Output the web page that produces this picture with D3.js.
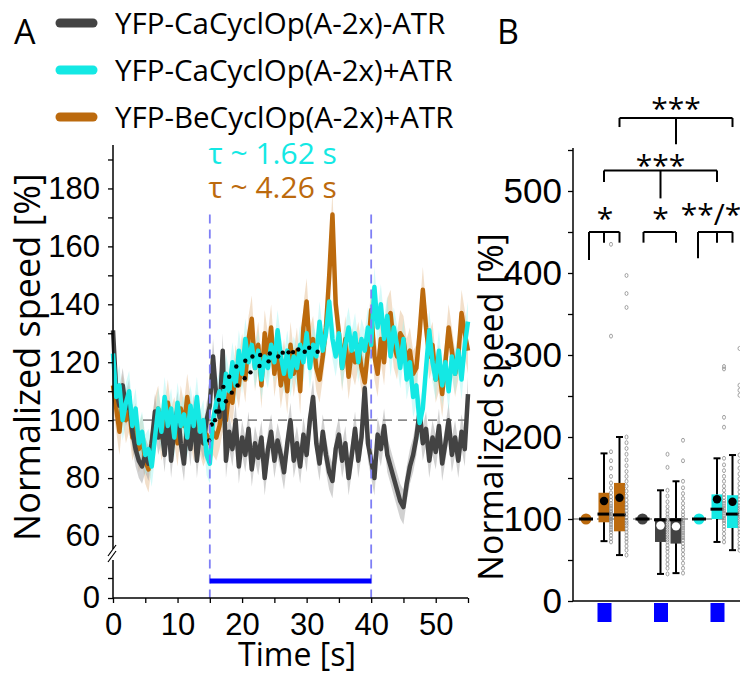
<!DOCTYPE html>
<html>
<head>
<meta charset="utf-8">
<script src="https://cdn.jsdelivr.net/npm/d3@7"></script>
<style>
  body { margin: 0; background: #fff; }
  svg { font-family: "Open Sans", sans-serif; }
</style>
</head>
<body>
<svg width="740" height="677"></svg>
<script>
// ---- panel A: normalized speed traces, sampled every 0.5 s (0..55 s)
const seriesNames = ['YFP-CaCyclOp(A-2x)-ATR', 'YFP-CaCyclOp(A-2x)+ATR', 'YFP-BeCyclOp(A-2x)+ATR'];

const darkSpeed = [
  131, 110, 105, 112, 104, 108, 96, 90, 86, 84,
  88, 85, 92, 103, 94, 98, 88, 102, 86, 97,
  104, 92, 85, 99, 90, 103, 86, 97, 92, 100,
  105, 122, 108, 101, 124, 86, 96, 90, 100, 84,
  94, 88, 97, 83, 92, 87, 94, 80, 90, 96,
  86, 93, 88, 82, 92, 100, 86, 92, 84, 95,
  88, 100, 108, 92, 85, 96, 88, 82, 79, 90,
  95, 86, 92, 80, 88, 97, 86, 94, 111, 92,
  86, 80, 95, 90, 98, 88, 84, 80, 76, 72,
  70, 78, 84, 88, 94, 103, 92, 97, 86, 94,
  89, 98, 85, 92, 100, 88, 94, 86, 96, 90,
  109
];
const cyanSpeed = [
  123, 108, 112, 100, 106, 110, 98, 104, 92, 96,
  88, 90, 84, 94, 104, 96, 108, 98, 104, 94,
  106, 98, 102, 94, 105, 98, 108, 96, 100, 88,
  85, 100, 106, 110, 104, 116, 110, 120, 112, 124,
  116, 128, 120, 126, 118, 124, 114, 122, 118, 126,
  120, 131, 122, 116, 124, 115, 122, 118, 126, 120,
  130, 118, 126, 122, 134, 124, 130, 141, 128, 122,
  130, 118, 126, 132, 124, 130, 120, 128, 124, 132,
  126, 146, 132, 140, 128, 136, 122, 132, 126, 118,
  128, 114, 120, 108, 112, 99, 104, 118, 131, 120,
  114, 124, 112, 120, 110, 122, 116, 124, 114, 126,
  134
];
const orangeSpeed = [
  112, 104, 96, 108, 100, 104, 94, 98, 90, 94,
  86, 83, 92, 100, 104, 94, 98, 106, 96, 100,
  92, 104, 98, 108, 100, 94, 102, 96, 92, 95,
  92, 96, 94, 98, 104, 100, 110, 106, 118, 112,
  122, 114, 128, 135, 118, 126, 112, 130, 122, 132,
  116, 124, 112, 120, 110, 126, 116, 124, 110, 132,
  141, 124, 128, 118, 114, 122, 132, 150, 171, 140,
  130, 118, 128, 115, 124, 120, 126, 118, 113, 124,
  138, 122, 116, 128, 120, 134, 137, 126, 122, 130,
  128, 120, 124, 116, 118, 130, 145, 132, 122, 126,
  114, 118, 109, 120, 132, 124, 116, 122, 137, 130,
  124
];
const semSpeed = [6, 7, 8];
const time = d3.range(0, 55.001, 0.5);

// exponential fits (dots)
const fitFastT = [15.3, 16.0, 16.4, 17.1, 18.0, 19.1, 20.5, 21.6, 22.8, 24.3, 26.3, 27.2, 27.9, 29.7, 31.7];
const fitFastV = [98.5, 103, 107, 111.5, 115, 118.5, 120.5, 122, 122.5, 123, 123.3, 123.4, 123.5, 123.6, 123.6];
const fitSlowT = [14.9, 15.8, 16.4, 17.5, 18.4, 19.3, 20.4, 21.3, 22.7, 24.1, 25.6, 28.7, 30.4];
const fitSlowV = [93, 100, 103, 106.5, 109.5, 112, 114.5, 116.5, 118.7, 120.3, 122, 124.4, 125];
const tauLabels = ['τ ~ 1.62 s', 'τ ~ 4.26 s'];
const stimStart = 15, stimEnd = 40;

// ---- panel B: box plots
const groups = ['Be+ATR', 'Ca-ATR', 'Ca+ATR'];
const boxGroup = [0, 0, 1, 1, 2, 2];
const boxSlot = ['s1', 's2', 's1', 's2', 's1', 's2'];
const boxQ1 = [96, 85, 72, 70, 100, 89];
const boxMedian = [106, 105, 99, 99, 112, 106];
const boxQ3 = [132, 144, 101, 101, 130, 129];
const boxLow = [73, 56, 33, 34, 72, 62];
const boxHigh = [180, 200, 135, 146, 174, 178];
const boxMean = [122, 126, 92, 91, 124, 121];
const boxPoints = [
  [182, 171, 162, 152, 144, 138, 132, 127, 123, 119, 116, 113, 110, 108, 106, 104, 102, 100, 98, 96, 93, 90, 87, 84, 80, 76, 72, 323, 435],
  [200, 193, 186, 179, 172, 165, 158, 152, 146, 140, 134, 128, 123, 118, 114, 110, 106, 102, 98, 95, 92, 88, 84, 80, 76, 72, 67, 62, 56, 358, 375, 397],
  [179, 163, 135, 128, 121, 115, 110, 106, 102, 99, 96, 93, 90, 87, 84, 81, 78, 75, 72, 68, 64, 60, 55, 50, 45, 40, 33],
  [196, 171, 146, 138, 131, 125, 119, 114, 109, 105, 101, 98, 95, 92, 89, 86, 83, 80, 77, 74, 70, 66, 62, 57, 52, 46, 40, 34],
  [286, 283, 224, 212, 174, 166, 159, 152, 146, 140, 135, 130, 126, 122, 119, 116, 113, 110, 107, 104, 101, 98, 95, 91, 87, 82, 77, 72],
  [308, 263, 257, 251, 178, 170, 162, 155, 149, 143, 138, 133, 128, 124, 120, 116, 113, 110, 107, 104, 101, 98, 95, 92, 88, 84, 80, 75, 70, 66, 62]
];
const baselineValue = 100;
const sigLabels = ['*', '*', '**/*', '***', '***'];

// ---- styling
const colors = ['#434343', '#14e8e4', '#bc6a0d'];
const bandColors = ['#9a9a9a', '#9ff3f1', '#e2b98a'];
const groupColor = ['#bc6a0d', '#434343', '#14e8e4'];

const svg = d3.select('svg');

// ================= PANEL A =================
const xA = d3.scaleLinear().domain([0, 55]).range([113, 468]);
const yA = d3.scaleLinear().domain([60, 195]).range([536, 145]);
const yA0 = d3.scaleLinear().domain([0, 20]).range([598, 558]);

const gA = svg.append('g');

// shaded sem bands
const traces = [orangeSpeed, darkSpeed, cyanSpeed];
const traceIdx = [2, 0, 1];
traceIdx.forEach((si, k) => {
  const vals = traces[k];
  const area = d3.area()
    .x((d, i) => xA(time[i]))
    .y0(d => yA(d - semSpeed[si]))
    .y1(d => yA(d + semSpeed[si]));
  gA.append('path')
    .attr('d', area(vals))
    .attr('fill', bandColors[si])
    .attr('opacity', 0.45);
});

// baseline 100 %
gA.append('line')
  .attr('x1', xA(0)).attr('x2', xA(55))
  .attr('y1', yA(100)).attr('y2', yA(100))
  .attr('stroke', '#8a8a8a').attr('stroke-width', 1.6)
  .attr('stroke-dasharray', '9,6');

traceIdx.forEach((si, k) => {
  const line = d3.line()
    .x((d, i) => xA(time[i]))
    .y(d => yA(d));
  gA.append('path')
    .attr('d', line(traces[k]))
    .attr('fill', 'none')
    .attr('stroke', colors[si])
    .attr('stroke-width', 4.5)
    .attr('stroke-linejoin', 'round');
});

// fit dots
gA.selectAll('circle.fast')
  .data(fitFastT)
  .enter().append('circle')
    .attr('cx', d => xA(d))
    .attr('cy', (d, i) => yA(fitFastV[i]))
    .attr('r', 2.2)
    .attr('fill', '#000');
gA.selectAll('circle.slow')
  .data(fitSlowT)
  .enter().append('circle')
    .attr('cx', d => xA(d))
    .attr('cy', (d, i) => yA(fitSlowV[i]))
    .attr('r', 2.2)
    .attr('fill', '#000');

// light stimulus window
[stimStart, stimEnd].forEach(t => {
  gA.append('line')
    .attr('x1', xA(t)).attr('x2', xA(t))
    .attr('y1', yA(171)).attr('y2', yA0(0))
    .attr('stroke', '#7f7ff5').attr('stroke-width', 1.8)
    .attr('stroke-dasharray', '9,6');
});
gA.append('line')
  .attr('x1', xA(stimStart)).attr('x2', xA(stimEnd))
  .attr('y1', yA0(8.5)).attr('y2', yA0(8.5))
  .attr('stroke', '#0000ff').attr('stroke-width', 5);

// axes
const yAxisA = d3.axisLeft(yA)
  .tickValues(d3.range(60, 191, 10))
  .tickFormat(d => d % 20 === 0 ? d : '')
  .tickSize(5)
  .tickPadding(8);
gA.append('g')
  .attr('transform', `translate(${xA(0)},0)`)
  .call(yAxisA)
  .call(g => g.select('.domain').remove());

const yAxisA0 = d3.axisLeft(yA0)
  .tickValues([0, 10])
  .tickFormat(d => d === 0 ? d : '')
  .tickSize(5)
  .tickPadding(8);
gA.append('g')
  .attr('transform', `translate(${xA(0)},0)`)
  .call(yAxisA0)
  .call(g => g.select('.domain').remove());

const xAxisA = d3.axisBottom(xA)
  .tickValues(d3.range(0, 56, 5))
  .tickFormat(d => d % 10 === 0 ? d : '')
  .tickSize(5)
  .tickPadding(10);
gA.append('g')
  .attr('transform', `translate(0,${yA0(0)})`)
  .call(xAxisA)
  .call(g => g.select('.domain').remove());

// axis lines with break
gA.append('line')
  .attr('x1', xA(0)).attr('x2', xA(0))
  .attr('y1', 145).attr('y2', 549)
  .attr('stroke', '#000').attr('stroke-width', 1.5);
gA.append('line')
  .attr('x1', xA(0)).attr('x2', xA(0))
  .attr('y1', 560).attr('y2', yA0(0))
  .attr('stroke', '#000').attr('stroke-width', 1.5);
gA.append('line')
  .attr('x1', xA(0)).attr('x2', xA(55))
  .attr('y1', yA0(0)).attr('y2', yA0(0))
  .attr('stroke', '#000').attr('stroke-width', 1.5);
[0, 6].forEach(o => {
  gA.append('line')
    .attr('x1', xA(0) - 5).attr('x2', xA(0) + 3)
    .attr('y1', 556 + o).attr('y2', 545 + o)
    .attr('stroke', '#000').attr('stroke-width', 1.2);
});

gA.selectAll('.tick text').attr('font-size', 31).attr('fill', '#000');
gA.selectAll('.tick line').attr('stroke', '#000').attr('stroke-width', 1.3);

gA.append('text')
  .attr('transform', `translate(${xA(28.5)},666)`)
  .attr('text-anchor', 'middle')
  .attr('font-size', 32)
  .text('Time [s]');
gA.append('text')
  .attr('transform', 'translate(40,357) rotate(-90)')
  .attr('text-anchor', 'middle')
  .attr('font-size', 36)
  .text('Normalized speed [%]');

// tau labels
gA.append('text')
  .attr('x', xA(14.8)).attr('y', 164)
  .attr('font-size', 30).attr('fill', colors[1])
  .text(tauLabels[0]);
gA.append('text')
  .attr('x', xA(14.8)).attr('y', 198)
  .attr('font-size', 30).attr('fill', colors[2])
  .text(tauLabels[1]);

// legend
const legend = svg.append('g');
seriesNames.forEach((name, i) => {
  const cy = 23 + i * 47;
  legend.append('line')
    .attr('x1', 60).attr('x2', 93)
    .attr('y1', cy).attr('y2', cy)
    .attr('stroke', colors[i]).attr('stroke-width', 9)
    .attr('stroke-linecap', 'round');
  legend.append('text')
    .attr('x', 115).attr('y', cy)
    .attr('dy', '0.36em')
    .attr('font-size', 29.5)
    .text(name);
});
svg.append('text').attr('x', 14).attr('y', 44).attr('font-size', 34).text('A');
svg.append('text').attr('x', 497).attr('y', 44).attr('font-size', 34).text('B');

// ================= PANEL B =================
const yB = d3.scaleLinear().domain([0, 550]).range([601, 150]);
const xGroup = d3.scalePoint().domain(groups).range([604, 717]);
const slotOffset = d3.scaleOrdinal().domain(['pre', 's1', 's2']).range([-18, 0, 15.5]);
const xB = (g, slot) => xGroup(groups[g]) + slotOffset(slot);
const boxW = 11;

const gB = svg.append('g');

gB.append('line')
  .attr('x1', 573).attr('x2', 740)
  .attr('y1', yB(baselineValue)).attr('y2', yB(baselineValue))
  .attr('stroke', '#8a8a8a').attr('stroke-width', 1.6)
  .attr('stroke-dasharray', '7,5');

// baseline (pre-light) markers
groups.forEach((g, gi) => {
  const cx = xB(gi, 'pre');
  gB.append('circle')
    .attr('cx', cx).attr('cy', yB(baselineValue))
    .attr('r', 5.5).attr('fill', groupColor[gi]);
  gB.append('line')
    .attr('x1', cx - 7).attr('x2', cx + 7)
    .attr('y1', yB(baselineValue)).attr('y2', yB(baselineValue))
    .attr('stroke', '#000').attr('stroke-width', 3);
});

boxQ1.forEach((q1, i) => {
  const cx = xB(boxGroup[i], boxSlot[i]);
  const col = groupColor[boxGroup[i]];
  // whisker
  gB.append('line')
    .attr('x1', cx).attr('x2', cx)
    .attr('y1', yB(boxLow[i])).attr('y2', yB(boxHigh[i]))
    .attr('stroke', '#000').attr('stroke-width', 2);
  [boxLow[i], boxHigh[i]].forEach(v => {
    gB.append('line')
      .attr('x1', cx - 3.5).attr('x2', cx + 3.5)
      .attr('y1', yB(v)).attr('y2', yB(v))
      .attr('stroke', '#000').attr('stroke-width', 2);
  });
  gB.append('rect')
    .attr('x', cx - boxW / 2).attr('width', boxW)
    .attr('y', yB(boxQ3[i])).attr('height', yB(q1) - yB(boxQ3[i]))
    .attr('fill', col);
  gB.append('line')
    .attr('x1', cx - boxW / 2 - 1).attr('x2', cx + boxW / 2 + 1)
    .attr('y1', yB(boxMedian[i])).attr('y2', yB(boxMedian[i]))
    .attr('stroke', '#000').attr('stroke-width', 3);
  gB.append('circle')
    .attr('cx', cx).attr('cy', yB(boxMean[i]))
    .attr('r', 4.2)
    .attr('fill', boxGroup[i] === 1 ? '#fff' : '#000');
  // raw points
  gB.selectAll(null)
    .data(boxPoints[i])
    .enter().append('ellipse')
      .attr('cx', cx + 7)
      .attr('cy', d => yB(d))
      .attr('rx', 1.5).attr('ry', 2)
      .attr('fill', 'none')
      .attr('stroke', '#8c8c8c')
      .attr('stroke-width', 0.8);
});

// blue light markers
groups.forEach((g, gi) => {
  gB.append('rect')
    .attr('x', xGroup(g) - 6.5).attr('width', 14)
    .attr('y', 603).attr('height', 19)
    .attr('fill', '#0000ff');
});

// axes B
const yAxisB = d3.axisLeft(yB)
  .tickValues(d3.range(0, 551, 50))
  .tickFormat(d => d % 100 === 0 ? d : '')
  .tickSize(5)
  .tickPadding(6);
gB.append('g')
  .attr('transform', 'translate(573,0)')
  .call(yAxisB)
  .call(g => g.select('.domain').remove())
  .call(g => g.selectAll('text').attr('font-size', 35).attr('fill', '#000'))
  .call(g => g.selectAll('line').attr('stroke', '#000').attr('stroke-width', 1.3));
gB.append('line')
  .attr('x1', 573).attr('x2', 573)
  .attr('y1', 148).attr('y2', yB(0))
  .attr('stroke', '#000').attr('stroke-width', 1.5);
gB.append('line')
  .attr('x1', 573).attr('x2', 740)
  .attr('y1', yB(0)).attr('y2', yB(0))
  .attr('stroke', '#000').attr('stroke-width', 1.5);
gB.append('text')
  .attr('transform', 'translate(503,407) rotate(-90)')
  .attr('text-anchor', 'middle')
  .attr('font-size', 34)
  .text('Normalized speed [%]');

// significance brackets
const bracket = (xs, yTop, legEnds, stem, label, lx, ly) => {
  gB.append('line')
    .attr('x1', xs[0]).attr('x2', xs[xs.length - 1])
    .attr('y1', yB(yTop)).attr('y2', yB(yTop))
    .attr('stroke', '#000').attr('stroke-width', 2);
  xs.forEach((x, k) => {
    gB.append('line')
      .attr('x1', x).attr('x2', x)
      .attr('y1', yB(yTop)).attr('y2', yB(legEnds[k]))
      .attr('stroke', '#000').attr('stroke-width', 2);
  });
  if (stem) {
    gB.append('line')
      .attr('x1', stem[0]).attr('x2', stem[0])
      .attr('y1', yB(yTop)).attr('y2', yB(stem[1]))
      .attr('stroke', '#000').attr('stroke-width', 2);
  }
  gB.append('text')
    .attr('x', lx).attr('y', ly)
    .attr('text-anchor', 'middle')
    .attr('font-size', 30)
    .text(label);
};
bracket([xB(0, 'pre') + 3, xB(0, 's1'), xB(0, 's2')], 450, [416, 437, 437], null, sigLabels[0], xB(0, 's1') + 1, 229);
bracket([xB(1, 'pre') + 1, xB(1, 's2')], 450, [437, 437], null, sigLabels[1], xB(1, 's1'), 229);
bracket([xB(2, 'pre') - 1, xB(2, 's1'), xB(2, 's2')], 450, [418, 437, 437], null, sigLabels[2], xB(2, 's1') - 6, 225);
bracket([xB(0, 's1'), xB(2, 's1')], 525, [511, 511], [(xB(0, 's1') + xB(2, 's1')) / 2, 491], sigLabels[3], (xB(0, 's1') + xB(2, 's1')) / 2, 176);
bracket([xB(0, 's2'), xB(2, 's2')], 589, [578, 578], [(xB(0, 's2') + xB(2, 's2')) / 2, 557], sigLabels[4], (xB(0, 's2') + xB(2, 's2')) / 2, 119);
</script>
</body>
</html>
